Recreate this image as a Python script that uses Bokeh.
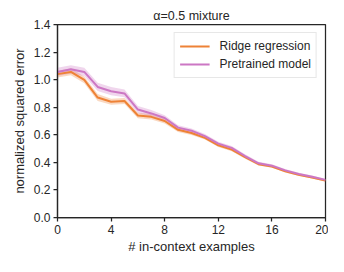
from bokeh.plotting import figure
from bokeh.models import FixedTicker, Range1d, Legend, LegendItem, PrintfTickFormatter, Title
from bokeh.embed import file_html
from bokeh.resources import INLINE

x_vals = list(range(21))
ridge = [1.04, 1.056, 0.998, 0.87, 0.84, 0.845, 0.74, 0.73, 0.70, 0.636, 0.613, 0.578, 0.524, 0.492, 0.438, 0.387, 0.37, 0.335, 0.31, 0.29, 0.268]
ridge_err = [0.025, 0.025, 0.025, 0.025, 0.022, 0.022, 0.02, 0.02, 0.018, 0.015, 0.015, 0.013, 0.012, 0.012, 0.011, 0.01, 0.01, 0.009, 0.009, 0.008, 0.008]
pretrained = [1.056, 1.075, 1.056, 0.947, 0.916, 0.90, 0.783, 0.755, 0.722, 0.652, 0.63, 0.59, 0.536, 0.505, 0.446, 0.393, 0.376, 0.342, 0.316, 0.296, 0.273]
pre_err = [0.03, 0.03, 0.03, 0.03, 0.03, 0.028, 0.025, 0.025, 0.02, 0.018, 0.016, 0.015, 0.014, 0.013, 0.012, 0.011, 0.01, 0.01, 0.009, 0.009, 0.008]
x_ticks = [0, 4, 8, 12, 16, 20]
y_ticks = [0.0, 0.2, 0.4, 0.6, 0.8, 1.0, 1.2, 1.4]
title_text = "α=0.5 mixture"
x_label = "# in-context examples"
y_label = "normalized squared error"
series_names = ["Ridge regression", "Pretrained model"]

ORANGE = "#ee8236"
PURPLE = "#cc77c4"
FONT = "Liberation Sans"
DARK = "#262626"

p = figure(width=328, height=256, output_backend="svg", toolbar_location=None,
           x_range=Range1d(0, 20), y_range=Range1d(0, 1.4),
           min_border_left=57, min_border_right=3, min_border_top=24, min_border_bottom=38)

t = Title(text=title_text, align="center", text_font=FONT, text_font_size="12.5px",
          text_font_style="normal", text_color=DARK, standoff=4)
p.add_layout(t, "above")

r_lo = [m - e for m, e in zip(ridge, ridge_err)]
r_hi = [m + e for m, e in zip(ridge, ridge_err)]
p_lo = [m - e for m, e in zip(pretrained, pre_err)]
p_hi = [m + e for m, e in zip(pretrained, pre_err)]

p.varea(x=x_vals, y1=r_lo, y2=r_hi, fill_color=ORANGE, fill_alpha=0.3)
p.varea(x=x_vals, y1=p_lo, y2=p_hi, fill_color=PURPLE, fill_alpha=0.3)
l1 = p.line(x_vals, ridge, line_color=ORANGE, line_width=2)
l2 = p.line(x_vals, pretrained, line_color=PURPLE, line_width=2)

legend = Legend(items=[LegendItem(label=series_names[0], renderers=[l1]),
                       LegendItem(label=series_names[1], renderers=[l2])],
                location="top_right", label_text_font=FONT, label_text_font_size="12px",
                label_text_color=DARK, border_line_color="#d0d0d0", border_line_width=1,
                background_fill_alpha=0.8, glyph_width=30, glyph_height=16, spacing=2,
                padding=5, margin=8, label_standoff=10, label_height=16)
p.add_layout(legend)

p.xgrid.visible = False
p.ygrid.visible = False
p.outline_line_color = DARK
p.outline_line_width = 1.25

p.xaxis.ticker = FixedTicker(ticks=x_ticks)
p.yaxis.ticker = FixedTicker(ticks=y_ticks)
p.yaxis.formatter = PrintfTickFormatter(format="%.1f")
for ax in (p.xaxis[0], p.yaxis[0]):
    ax.axis_line_color = DARK
    ax.axis_line_width = 1.25
    ax.major_tick_line_color = DARK
    ax.major_tick_line_width = 1.25
    ax.major_tick_in = 0
    ax.major_tick_out = 4
    ax.minor_tick_line_color = None
    ax.major_label_text_font = FONT
    ax.major_label_text_font_size = "12px"
    ax.major_label_text_color = DARK
    ax.axis_label_text_font = FONT
    ax.axis_label_text_font_size = "13px"
    ax.axis_label_text_font_style = "normal"
    ax.axis_label_text_color = DARK
p.xaxis.axis_label = x_label
p.yaxis.axis_label = y_label
p.xaxis.axis_label_standoff = 2
p.yaxis.axis_label_standoff = 4
p.xaxis.major_label_standoff = 3
p.yaxis.major_label_standoff = 3

open("out.html", "w").write(file_html(p, INLINE))
